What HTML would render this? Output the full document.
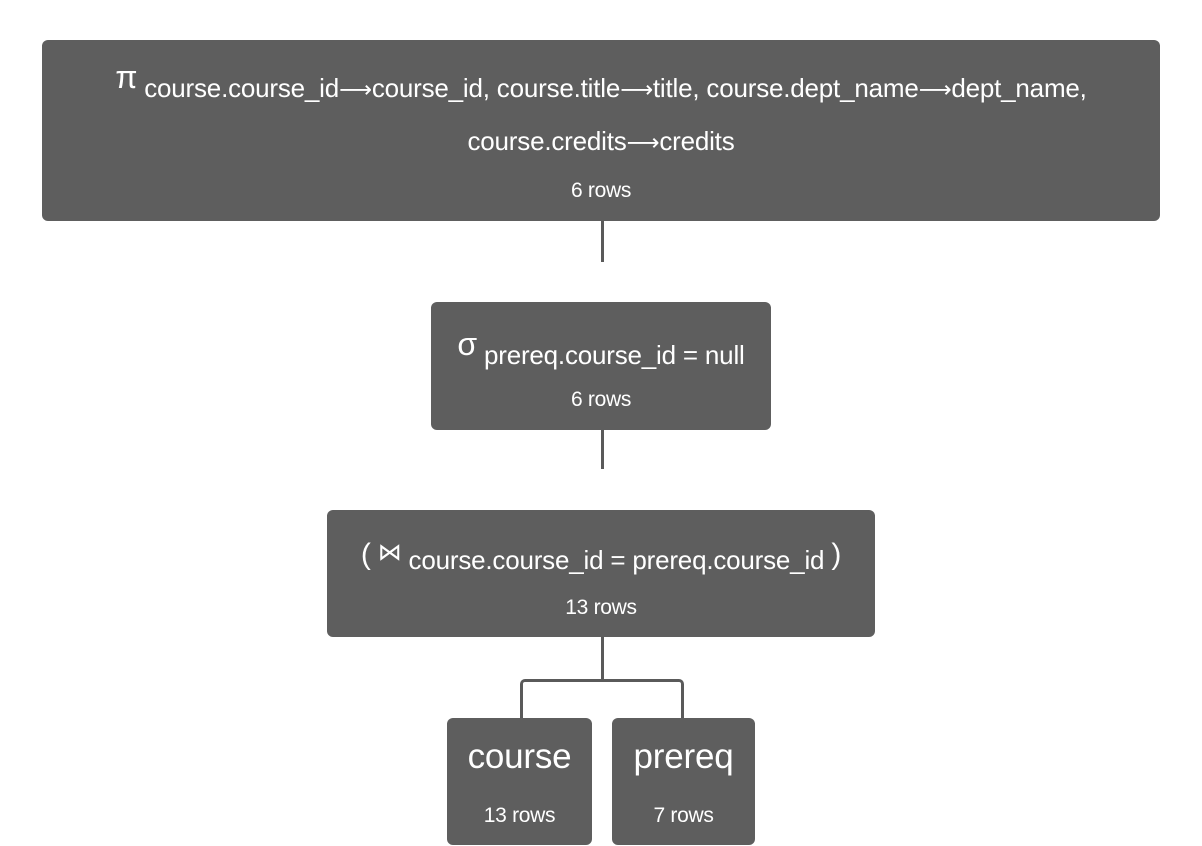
<!DOCTYPE html>
<html><head><meta charset="utf-8"><style>
body{margin:0;width:1202px;height:846px;background:#fff;position:relative;overflow:hidden;font-family:"Liberation Sans","DejaVu Sans",sans-serif;color:#fff}
.b{position:absolute;background:#5e5e5e;border-radius:6px;text-align:center}
.t{position:absolute;left:0;right:0;font-size:26px;white-space:nowrap;letter-spacing:-0.2px}
.r{position:absolute;left:0;right:0;font-size:21px;letter-spacing:-0.3px}
.l{position:absolute;background:#5a5a5a}
.sym{font-size:32px;position:relative;top:-9px}
.a{font-family:"DejaVu Sans",sans-serif;font-size:23px}
</style></head><body>
<div class="b" style="left:42px;top:40px;width:1118px;height:181px">
 <div class="t" style="top:28px"><span class="sym">π</span> course.course_id<span class="a">⟶</span>course_id, course.title<span class="a">⟶</span>title, course.dept_name<span class="a">⟶</span>dept_name,</div>
 <div class="t" style="top:86px">course.credits<span class="a">⟶</span>credits</div>
 <div class="r" style="top:139px">6 rows</div>
</div>
<div class="l" style="left:601px;top:221px;width:3px;height:41px"></div>
<div class="b" style="left:431px;top:302px;width:340px;height:128px">
 <div class="t" style="top:33px"><span class="sym">σ</span> prereq.course_id = null</div>
 <div class="r" style="top:86px">6 rows</div>
</div>
<div class="l" style="left:601px;top:430px;width:3px;height:39px"></div>
<div class="b" style="left:327px;top:510px;width:548px;height:127px">
 <div class="t" style="top:33px"><span style="font-size:30px;position:relative;top:-5px">(</span> <span style="font-size:24px;position:relative;top:-9px;font-family:'DejaVu Serif',serif">⋈</span> course.course_id = prereq.course_id <span style="font-size:30px;position:relative;top:-5px">)</span></div>
 <div class="r" style="top:86px">13 rows</div>
</div>
<div class="l" style="left:601px;top:637px;width:3px;height:44px"></div>
<div style="position:absolute;left:520px;top:679px;width:158px;height:40px;border:3px solid #5a5a5a;border-bottom:none;border-radius:5px 5px 0 0"></div>
<div class="b" style="left:447px;top:718px;width:145px;height:127px">
 <div class="t" style="top:19px;font-size:35px">course</div>
 <div class="r" style="top:86px">13 rows</div>
</div>
<div class="b" style="left:612px;top:718px;width:143px;height:127px">
 <div class="t" style="top:19px;font-size:35px">prereq</div>
 <div class="r" style="top:86px">7 rows</div>
</div>
</body></html>
